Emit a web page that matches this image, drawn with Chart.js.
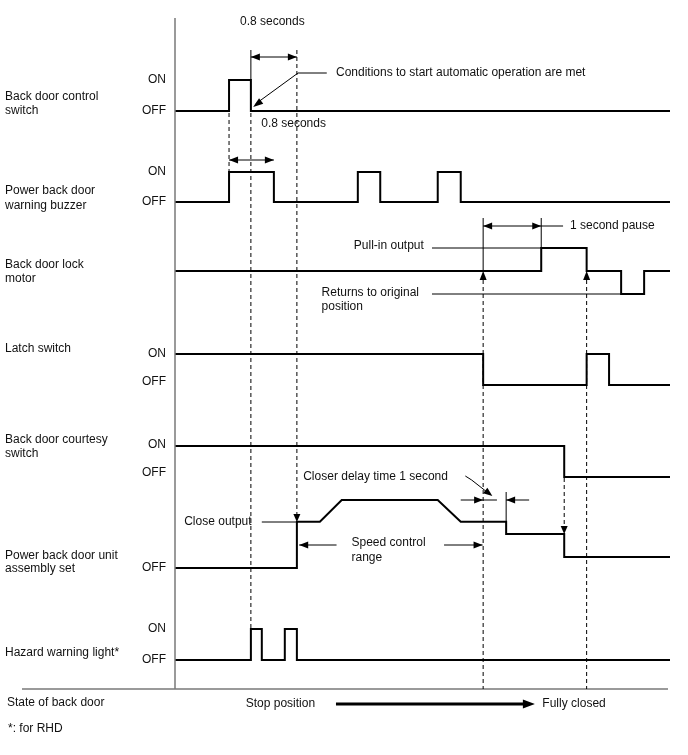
<!DOCTYPE html>
<html lang="en">
<head>
  <meta charset="UTF-8" />
  <title>Power Back Door Timing Chart</title>
  <script src="https://cdn.jsdelivr.net/npm/chart.js"></script>
</head>
<body style="margin: 0; padding: 0; background: #fff;">
  <canvas id="timing" width="688" height="755" style="display: block;"></canvas>

  <script>
    // time axis in seconds, signal levels (1 = ON, 0 = OFF)
    const endTime = 8.61;

    const controlSwitchT = [0, 0.94, 1.32, 8.61];
    const controlSwitchOn = [0, 1, 0, 0];

    const buzzerT = [0, 0.94, 1.72, 3.18, 3.57, 4.57, 4.97, 8.61];
    const buzzerOn = [0, 1, 0, 1, 0, 1, 0, 0];

    const lockMotorT = [0, 6.37, 7.16, 7.76, 8.16, 8.61];
    const lockMotorOut = [0, 1, 0, -1, 0, 0];   // 1 = pull-in, -1 = return

    const latchT = [0, 5.36, 7.16, 7.55, 8.61];
    const latchOn = [1, 0, 1, 0, 0];

    const courtesyT = [0, 6.77, 8.61];
    const courtesyOn = [1, 0, 0];

    // unit output in % (ramps, so not stepped)
    const unitT = [0, 2.12, 2.12, 2.52, 2.90, 4.57, 4.97, 5.76, 5.76, 6.77, 6.77, 8.61];
    const unitOutput = [0, 0, 68, 68, 100, 100, 68, 68, 50, 50, 16, 16];

    const hazardT = [0, 1.32, 1.51, 1.91, 2.12, 8.61];
    const hazardOn = [0, 1, 0, 1, 0, 0];

    const signalNames = [
      ['Back door control', 'switch'],
      ['Power back door', 'warning buzzer'],
      ['Back door lock', 'motor'],
      ['Latch switch'],
      ['Back door courtesy', 'switch'],
      ['Power back door unit', 'assembly set'],
      ['Hazard warning light*']
    ];

    // row layout on the y scale (0 = bottom line)
    const rows = [
      { base: 578, amp: 31, name: [592, 578], on: 609, off: 578 },
      { base: 487, amp: 30, name: [498, 483], on: 517, off: 487 },
      { base: 418, amp: 23, name: [424, 410] },
      { base: 304, amp: 31, name: [340], on: 335, off: 307 },
      { base: 212, amp: 31, name: [249, 235], on: 244, off: 216 },
      { base: 121, amp: 0.68, name: [133, 120], off: 121 },
      { base: 29, amp: 31, name: [36], on: 60, off: 29 }
    ];

    const series = [
      [controlSwitchT, controlSwitchOn, true],
      [buzzerT, buzzerOn, true],
      [lockMotorT, lockMotorOut, true],
      [latchT, latchOn, true],
      [courtesyT, courtesyOn, true],
      [unitT, unitOutput, false],
      [hazardT, hazardOn, true]
    ];

    const datasets = series.map(([t, lv, step], i) => ({
      data: t.map((x, k) => ({ x: x, y: rows[i].base + lv[k] * rows[i].amp })),
      showLine: true,
      stepped: step ? 'before' : false,
      borderColor: '#000',
      borderWidth: 2,
      pointRadius: 0,
      clip: 4
    }));

    const FONT = '12px "Liberation Sans", Arial, sans-serif';

    const decor = {
      id: 'decor',
      afterDatasetsDraw(chart) {
        const c = chart.ctx;
        const xs = chart.scales.x, ys = chart.scales.y;
        const X = v => xs.getPixelForValue(v);
        const Y = v => ys.getPixelForValue(v);
        const area = chart.chartArea;

        const line = (pts, w, dash) => {
          c.save();
          c.strokeStyle = '#000';
          c.lineWidth = w || 1;
          c.setLineDash(dash || []);
          c.beginPath();
          pts.forEach(([t, v], k) => k ? c.lineTo(X(t), Y(v)) : c.moveTo(X(t), Y(v)));
          c.stroke();
          c.restore();
        };
        // filled arrow head, tip at (t, v), pointing along ang (0 = right)
        const head = (t, v, ang, len, half) => {
          len = len || 9; half = half || 3.5;
          c.save();
          c.fillStyle = '#000';
          c.translate(X(t), Y(v));
          c.rotate(ang);
          c.beginPath();
          c.moveTo(0, 0);
          c.lineTo(-len, -half);
          c.lineTo(-len, half);
          c.closePath();
          c.fill();
          c.restore();
        };
        const RIGHT = 0, LEFT = Math.PI, TOUP = -Math.PI / 2, TODOWN = Math.PI / 2;

        const text = (s, px, py, align) => {
          c.save();
          c.font = FONT;
          c.fillStyle = '#111';
          c.textAlign = align || 'left';
          c.textBaseline = 'middle';
          c.fillText(s, px, py);
          c.restore();
        };
        const textAt = (s, t, v, align) => text(s, X(t), Y(v), align);

        // frame
        c.save();
        c.strokeStyle = '#7a7a7a';
        c.lineWidth = 1.5;
        c.beginPath();
        c.moveTo(area.left, area.top);
        c.lineTo(area.left, area.bottom);
        c.moveTo(22, area.bottom);
        c.lineTo(area.right - 2, area.bottom);
        c.stroke();
        c.restore();

        const dash = [4, 3];
        // dashed guides
        line([[0.94, 576], [0.94, 517]], 1, dash);
        line([[1.32, 576], [1.32, 60]], 1, dash);
        line([[2.12, 639], [2.12, 175]], 1, dash);
        head(2.12, 167, TODOWN, 8, 3.5);
        line([[5.36, 409], [5.36, 0]], 1, dash);
        head(5.36, 418, TOUP, 9, 3.5);
        line([[7.16, 409], [7.16, 0]], 1, dash);
        head(7.16, 418, TOUP, 9, 3.5);
        line([[6.77, 211], [6.77, 163]], 1, dash);
        head(6.77, 155, TODOWN, 8, 3.5);

        // solid markers
        line([[1.32, 639], [1.32, 609]], 1);
        line([[5.36, 471], [5.36, 418]], 1);
        line([[6.37, 471], [6.37, 441]], 1);
        line([[5.76, 197], [5.76, 167]], 1);

        // 0.8 seconds (top)
        line([[1.32, 632], [2.12, 632]], 1);
        head(1.32, 632, LEFT); head(2.12, 632, RIGHT);
        textAt('0.8 seconds', 1.13, 667);

        // conditions leader
        line([[2.64, 616], [2.14, 616], [1.40, 585]], 1);
        head(1.36, 582, Math.atan2(Y(582) - Y(616), X(1.36) - X(2.14)), 10, 3.5);
        textAt('Conditions to start automatic operation are met', 2.80, 616);

        // 0.8 seconds (buzzer)
        line([[0.94, 529], [1.72, 529]], 1);
        head(0.94, 529, LEFT); head(1.72, 529, RIGHT);
        textAt('0.8 seconds', 1.50, 565);

        // 1 second pause
        line([[5.36, 463], [6.75, 463]], 1);
        head(5.36, 463, LEFT); head(6.37, 463, RIGHT);
        textAt('1 second pause', 6.87, 463);

        // pull-in / returns
        line([[4.47, 441], [6.37, 441]], 1);
        textAt('Pull-in output', 3.11, 443);
        line([[4.47, 395], [7.76, 395]], 1);
        textAt('Returns to original', 2.55, 396);
        textAt('position', 2.55, 382);

        // closer delay
        line([[4.97, 189], [5.60, 189]], 1);
        head(5.36, 189, RIGHT);
        line([[6.16, 189], [5.76, 189]], 1);
        head(5.76, 189, LEFT);
        line([[5.05, 213], [5.16, 209], [5.47, 195]], 1);
        head(5.52, 193, Math.atan2(Y(193) - Y(209), X(5.52) - X(5.16)), 9, 3.5);
        textAt('Closer delay time 1 second', 2.23, 212);

        // close output
        line([[1.51, 167], [2.12, 167]], 1);
        textAt('Close output', 0.16, 167);

        // speed control range
        line([[2.81, 144], [2.16, 144]], 1);
        head(2.16, 144, LEFT);
        line([[4.68, 144], [5.35, 144]], 1);
        head(5.35, 144, RIGHT);
        textAt('Speed control', 3.07, 146);
        textAt('range', 3.07, 131);

        // state of back door
        line([[2.80, -15], [6.10, -15]], 3);
        head(6.26, -15, RIGHT, 12, 4.5);
        textAt('Stop position', 1.23, -15);
        textAt('Fully closed', 6.39, -15);
        text('State of back door', 7, Y(-14));
        text('*: for RHD', 8, Y(-40));

        // row names and ON/OFF labels
        rows.forEach((r, i) => {
          signalNames[i].forEach((s, k) => text(s, 5, Y(r.name[k])));
          if (r.on !== undefined) text('ON', area.left - 9, Y(r.on), 'right');
          if (r.off !== undefined) text('OFF', area.left - 9, Y(r.off), 'right');
        });
      }
    };

    new Chart(document.getElementById('timing').getContext('2d'), {
      type: 'scatter',
      data: { datasets: datasets },
      options: {
        responsive: false,
        animation: false,
        layout: { padding: { left: 175, right: 18, top: 18, bottom: 66 } },
        scales: {
          x: { type: 'linear', min: 0, max: endTime, display: false },
          y: { type: 'linear', min: 0, max: 671, display: false }
        },
        plugins: { legend: { display: false }, tooltip: { enabled: false } }
      },
      plugins: [decor]
    });
  </script>
</body>
</html>
